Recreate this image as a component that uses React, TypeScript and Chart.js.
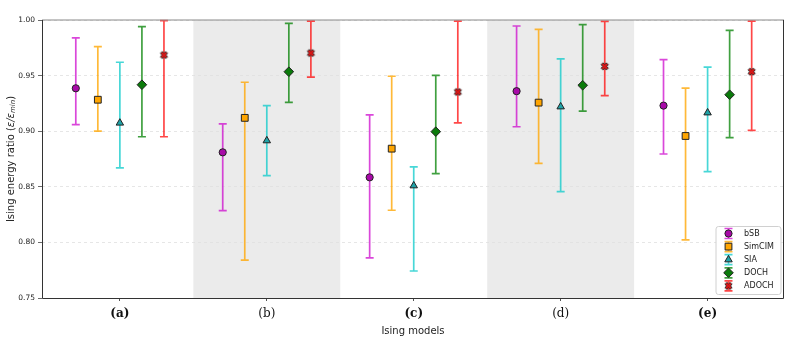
import React, { useEffect, useRef } from 'react';
import { Chart, registerables } from 'chart.js';
import { drawPoint } from 'chart.js/helpers';

Chart.register(...registerables);

// ---------- data ----------
const categories = ['(a)', '(b)', '(c)', '(d)', '(e)'];
const boldCategory = [true, false, true, false, true];
const shadedCategories = [1, 3];
const yTicks = [0.75, 0.8, 0.85, 0.9, 0.95, 1.0];
const methods = ['bSB', 'SimCIM', 'SIA', 'DOCH', 'ADOCH'];

const bSBMean = [0.9386, 0.881, 0.8585, 0.936, 0.923];
const bSBLow = [0.906, 0.8285, 0.786, 0.904, 0.8795];
const bSBHigh = [0.984, 0.9065, 0.9146, 0.9946, 0.9643];

const simCIMMean = [0.9283, 0.912, 0.8843, 0.9257, 0.8957];
const simCIMLow = [0.9, 0.784, 0.8289, 0.871, 0.8022];
const simCIMHigh = [0.976, 0.944, 0.9494, 0.9916, 0.9388];

const siaMean = [0.9074, 0.8915, 0.851, 0.922, 0.9166];
const siaLow = [0.867, 0.86, 0.7743, 0.8456, 0.8636];
const siaHigh = [0.962, 0.923, 0.868, 0.965, 0.9577];

const dochMean = [0.9418, 0.9535, 0.8996, 0.9413, 0.9328];
const dochLow = [0.895, 0.926, 0.8618, 0.918, 0.8942];
const dochHigh = [0.994, 0.997, 0.9502, 0.9958, 0.9907];

const adochMean = [0.9685, 0.9703, 0.9353, 0.9583, 0.9535];
const adochLow = [0.895, 0.9487, 0.9074, 0.932, 0.9008];
const adochHigh = [0.9994, 0.999, 0.999, 0.9988, 0.999];

// ---------- styling ----------
const groupOffsets = [-0.3, -0.15, 0, 0.15, 0.3];
const FONT = "'DejaVu Sans', sans-serif";

function makeXMarker(fill: string, stroke: string) {
  const c = document.createElement('canvas');
  c.width = 11;
  c.height = 11;
  const ctx = c.getContext('2d')!;
  const L = 3.7, a = 1.35, m = 5.5;
  const pts = [[a, L], [a, a], [L, a], [L, -a], [a, -a], [a, -L], [-a, -L], [-a, -a], [-L, -a], [-L, a], [-a, a], [-a, L]];
  const k = Math.SQRT1_2;
  ctx.beginPath();
  pts.forEach(([px, py], i) => {
    const rx = (px - py) * k + m;
    const ry = (px + py) * k + m;
    if (i) ctx.lineTo(rx, ry); else ctx.moveTo(rx, ry);
  });
  ctx.closePath();
  ctx.fillStyle = fill;
  ctx.fill();
  ctx.lineWidth = 1;
  ctx.strokeStyle = stroke;
  ctx.stroke();
  return c;
}

type Series = {
  name: string; mean: number[]; low: number[]; high: number[];
  bar: string; face: string; style: any; radius: number;
};

function buildSeries(): Series[] {
  return [
    { name: methods[0], mean: bSBMean, low: bSBLow, high: bSBHigh, bar: 'rgba(204,0,204,0.72)', face: '#a80aa8', style: 'circle', radius: 3.6 },
    { name: methods[1], mean: simCIMMean, low: simCIMLow, high: simCIMHigh, bar: 'rgba(255,165,0,0.78)', face: '#ffa500', style: 'rect', radius: 4.8 },
    { name: methods[2], mean: siaMean, low: siaLow, high: siaHigh, bar: 'rgba(0,200,200,0.72)', face: '#1fa3a8', style: 'triangle', radius: 4.3 },
    { name: methods[3], mean: dochMean, low: dochLow, high: dochHigh, bar: 'rgba(0,128,0,0.75)', face: '#0b7a0b', style: 'rectRot', radius: 4.8 },
    { name: methods[4], mean: adochMean, low: adochLow, high: adochHigh, bar: 'rgba(255,0,0,0.72)', face: '#e01515', style: makeXMarker('#e01515', '#222'), radius: 4 },
  ];
}

export default function App() {
  const ref = useRef<HTMLCanvasElement>(null);

  useEffect(() => {
    const series = buildSeries();

    const bandPlugin = {
      id: 'bands',
      beforeDraw(chart: any) {
        const { ctx, chartArea, scales } = chart;
        const x = scales.x;
        ctx.save();
        ctx.fillStyle = '#ebebeb';
        shadedCategories.forEach((i) => {
          const x1 = x.getPixelForValue(i - 0.5);
          const x2 = x.getPixelForValue(i + 0.5);
          ctx.fillRect(x1, chartArea.top, x2 - x1, chartArea.bottom - chartArea.top);
        });
        ctx.restore();
      },
    };

    const errorBarPlugin = {
      id: 'errorBars',
      beforeDatasetsDraw(chart: any) {
        const { ctx, scales } = chart;
        const { x, y } = scales;
        ctx.save();
        series.forEach((s, j) => {
          ctx.strokeStyle = s.bar;
          ctx.lineWidth = 1.7;
          categories.forEach((_, i) => {
            const px = x.getPixelForValue(i + groupOffsets[j]);
            const yl = y.getPixelForValue(s.low[i]);
            const yh = y.getPixelForValue(s.high[i]);
            ctx.beginPath();
            ctx.moveTo(px, yl); ctx.lineTo(px, yh);
            ctx.moveTo(px - 4, yl); ctx.lineTo(px + 4, yl);
            ctx.moveTo(px - 4, yh); ctx.lineTo(px + 4, yh);
            ctx.stroke();
          });
        });
        ctx.restore();
      },
    };

    const framePlugin = {
      id: 'frame',
      afterDraw(chart: any) {
        const { ctx, chartArea: a } = chart;
        ctx.save();
        ctx.lineWidth = 1.2;
        ctx.strokeStyle = '#8a8a8a';
        ctx.beginPath();
        ctx.moveTo(a.left, a.top); ctx.lineTo(a.right, a.top);
        ctx.stroke();
        ctx.strokeStyle = '#333';
        ctx.lineWidth = 1;
        ctx.beginPath();
        ctx.moveTo(a.right - 0.5, a.top); ctx.lineTo(a.right - 0.5, a.bottom + 0.5);
        ctx.lineTo(a.left + 0.5, a.bottom + 0.5); ctx.lineTo(a.left + 0.5, a.top);
        ctx.stroke();

        // y-axis title with subscript
        const cy = (a.top + a.bottom) / 2;
        ctx.translate(11, cy);
        ctx.rotate(-Math.PI / 2);
        ctx.fillStyle = '#222';
        ctx.textBaseline = 'middle';
        const pieces = [
          { t: 'Ising energy ratio (', f: `10px ${FONT}`, dy: 0 },
          { t: 'ε/ε', f: `italic 10px ${FONT}`, dy: 0 },
          { t: 'min', f: `italic 7px ${FONT}`, dy: 2.5 },
          { t: ')', f: `10px ${FONT}`, dy: 0 },
        ];
        let total = 0;
        pieces.forEach((p) => { ctx.font = p.f; total += ctx.measureText(p.t).width; });
        let cx = -total / 2;
        pieces.forEach((p) => {
          ctx.font = p.f;
          ctx.textAlign = 'left';
          ctx.fillText(p.t, cx, p.dy);
          cx += ctx.measureText(p.t).width;
        });
        ctx.restore();

        // legend
        ctx.save();
        const w = 65, h = 68;
        const lx = a.right - 3.5 - w, ly = a.bottom - 4 - h;
        ctx.beginPath();
        ctx.roundRect(lx + 0.5, ly + 0.5, w, h, 2.5);
        ctx.fillStyle = 'rgba(255,255,255,0.85)';
        ctx.fill();
        ctx.strokeStyle = '#d0d0d0';
        ctx.lineWidth = 1;
        ctx.stroke();
        series.forEach((s, j) => {
          const ry = ly + 7.5 + j * 13.1;
          const mx = lx + 13;
          ctx.strokeStyle = s.bar;
          ctx.lineWidth = 1.7;
          ctx.beginPath();
          ctx.moveTo(mx, ry - 5); ctx.lineTo(mx, ry + 5);
          ctx.moveTo(mx - 4, ry - 5); ctx.lineTo(mx + 4, ry - 5);
          ctx.moveTo(mx - 4, ry + 5); ctx.lineTo(mx + 4, ry + 5);
          ctx.stroke();
          ctx.fillStyle = s.face;
          ctx.strokeStyle = '#222';
          ctx.lineWidth = 1;
          drawPoint(ctx, { pointStyle: s.style, radius: s.radius, borderWidth: 1, rotation: 0 } as any, mx, ry);
          ctx.fillStyle = '#222';
          ctx.font = `8px ${FONT}`;
          ctx.textAlign = 'left';
          ctx.textBaseline = 'middle';
          ctx.fillText(s.name, lx + 28.5, ry + 0.5);
        });
        ctx.restore();
      },
    };

    const chart = new Chart(ref.current!, {
      type: 'scatter',
      data: {
        datasets: series.map((s, j) => ({
          label: s.name,
          data: s.mean.map((v, i) => ({ x: i + groupOffsets[j], y: v })),
          pointStyle: s.style,
          pointRadius: s.radius,
          pointHoverRadius: s.radius,
          pointBackgroundColor: s.face,
          pointBorderColor: '#222',
          pointBorderWidth: 1,
          showLine: false,
        })),
      },
      options: {
        animation: false,
        responsive: true,
        maintainAspectRatio: false,
        layout: { padding: { top: 20, right: 9, left: 0, bottom: 0 } },
        plugins: { legend: { display: false }, tooltip: { enabled: false } },
        events: [],
        scales: {
          x: {
            type: 'linear',
            min: -0.53,
            max: 4.52,
            afterBuildTicks: (scale: any) => { scale.ticks = categories.map((_, i) => ({ value: i })); },
            afterFit: (scale: any) => { scale.height = 42; },
            ticks: {
              autoSkip: false,
              maxRotation: 0,
              padding: 6,
              color: '#111',
              callback: (v: any) => categories[Math.round(Number(v))],
              font: (ctx: any) => ({ family: "'DejaVu Serif', serif", size: 12, weight: boldCategory[ctx.index] ? 'bold' : 'normal' }),
            },
            grid: { display: true, drawOnChartArea: false, drawTicks: true, tickLength: 3, tickColor: '#555' },
            border: { display: false },
            title: { display: true, text: 'Ising models', color: '#222', font: { family: FONT, size: 10 }, padding: { top: 0, bottom: 3 } },
          },
          y: {
            type: 'linear',
            min: 0.75,
            max: 1.0,
            afterBuildTicks: (scale: any) => { scale.ticks = yTicks.map((v) => ({ value: v })); },
            afterFit: (scale: any) => { scale.width = 42; },
            ticks: {
              padding: 3,
              color: '#222',
              font: { family: FONT, size: 7.5 },
              callback: (v: any) => Number(v).toFixed(2),
            },
            grid: { display: true, color: '#e0e0e0', lineWidth: 0.8, drawTicks: true, tickLength: 4, tickColor: '#444' },
            border: { display: false, dash: [3, 3] },
          },
        },
      },
      plugins: [bandPlugin, errorBarPlugin, framePlugin],
    } as any);

    return () => chart.destroy();
  }, []);

  return (
    <div style={{ position: 'fixed', left: 0, top: 0, width: 793, height: 340 }}>
      <canvas ref={ref} />
    </div>
  );
}
